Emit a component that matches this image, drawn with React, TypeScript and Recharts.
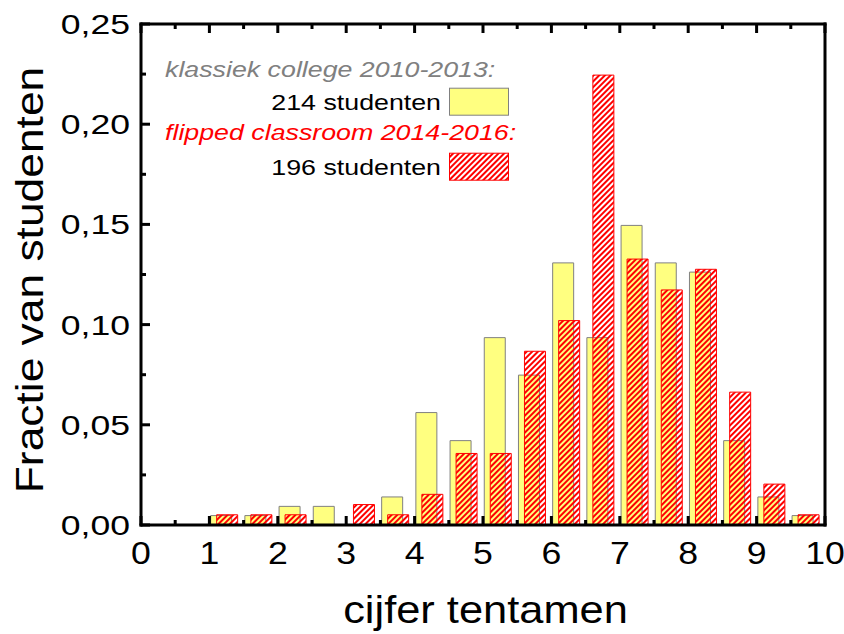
import React from 'react';
import { BarChart, Bar, XAxis, YAxis, Legend } from 'recharts';

// ---- data ----
const bins = [1.0, 1.5, 2.0, 2.5, 3.0, 3.5, 4.0, 4.5, 5.0, 5.5, 6.0, 6.5, 7.0, 7.5, 8.0, 8.5, 9.0, 9.5];
const klassiek = [0.0047, 0.0047, 0.0093, 0.0093, 0, 0.014, 0.0561, 0.0421, 0.0935, 0.0748, 0.1308, 0.0935, 0.1495, 0.1308, 0.1262, 0.0421, 0.014, 0.0047];
const flipped = [0.0051, 0.0051, 0.0051, 0, 0.0102, 0.0051, 0.0153, 0.0357, 0.0357, 0.0867, 0.102, 0.2245, 0.1327, 0.1173, 0.1276, 0.0663, 0.0204, 0.0051];
const xTicks = [0, 0.5, 1, 1.5, 2, 2.5, 3, 3.5, 4, 4.5, 5, 5.5, 6, 6.5, 7, 7.5, 8, 8.5, 9, 9.5, 10];
const yTicks = [0, 0.025, 0.05, 0.075, 0.1, 0.125, 0.15, 0.175, 0.2, 0.225, 0.25];
const legendTitles = ['klassiek college 2010-2013:', 'flipped classroom 2014-2016:'];
const legendCounts = ['214 studenten', '196 studenten'];
const xTitle = 'cijfer tentamen';
const yTitle = 'Fractie van studenten';

const data = bins.map((b, i) => ({ bin: b, klassiek: klassiek[i], flipped: flipped[i] }));

// ---- layout ----
const W = 844;
const H = 634;
const PL = 141;
const PR = 825;
const PT = 24;
const PB = 525;
const FONT = '"Liberation Sans", Arial, Helvetica, sans-serif';
const BAR_SHIFT = 0.21; // group centre inside each 0.5-wide bin
const xOf = (d: any) => d.bin + BAR_SHIFT;

const MAJOR = 9;
const MINOR = 5;

const isMajorX = (v: number) => Math.abs(v - Math.round(v)) < 1e-9;
const isMajorY = (v: number) => Math.abs(v * 20 - Math.round(v * 20)) < 1e-9;

const BottomTick = (props: any) => {
  const { x, y, payload } = props;
  const v = payload.value;
  const major = isMajorX(v);
  return (
    <g>
      <line x1={x} x2={x} y1={y} y2={y - (major ? MAJOR : MINOR)} stroke="#000" strokeWidth={3} />
      {major && (
        <text
          transform={`translate(${x},${y + 38.5}) scale(1.15,1)`}
          textAnchor="middle"
          fontFamily={FONT}
          fontSize={31}
          fill="#000"
        >
          {String(v)}
        </text>
      )}
    </g>
  );
};

const TopTick = (props: any) => {
  const { x, y, payload } = props;
  const major = isMajorX(payload.value);
  return <line x1={x} x2={x} y1={y} y2={y + (major ? MAJOR : MINOR)} stroke="#000" strokeWidth={3} />;
};

const LeftTick = (props: any) => {
  const { x, y, payload } = props;
  const v = payload.value;
  const major = isMajorY(v);
  return (
    <g>
      <line x1={x} x2={x + (major ? MAJOR : MINOR)} y1={y} y2={y} stroke="#000" strokeWidth={3} />
      {major && (
        <text
          transform={`translate(${x - 11},${y + 10}) scale(1.27,1)`}
          textAnchor="end"
          fontFamily={FONT}
          fontSize={28}
          fill="#000"
        >
          {v.toFixed(2).replace('.', ',')}
        </text>
      )}
    </g>
  );
};

const RightTick = (props: any) => {
  const { x, y, payload } = props;
  const major = isMajorY(payload.value);
  return <line x1={x} x2={x - (major ? MAJOR : MINOR)} y1={y} y2={y} stroke="#000" strokeWidth={3} />;
};

const YTitle = () => (
  <text
    transform={`translate(43.3,280) rotate(-90) scale(1.123,1)`}
    textAnchor="middle"
    fontFamily={FONT}
    fontSize={39.5}
    fill="#000"
  >
    {yTitle}
  </text>
);

const XTitle = () => (
  <text
    transform={`translate(485.5,623) scale(1.128,1)`}
    textAnchor="middle"
    fontFamily={FONT}
    fontSize={38.5}
    fill="#000"
  >
    {xTitle}
  </text>
);

const Hatch = ({ id }: { id: string }) => (
  <pattern id={id} patternUnits="userSpaceOnUse" width={4} height={4} patternTransform="rotate(45)">
    <rect x={0} y={0} width={2} height={4} fill="#ff0000" />
  </pattern>
);

const LegendBox = () => {
  const fs = 22.5;
  const sx = 1.19;
  return (
    <svg width={W} height={200} style={{ display: 'block', overflow: 'visible' }}>
      <defs>
        <Hatch id="hatchLegend" />
      </defs>
      <text transform={`translate(165,77.3) scale(${sx},1)`} fontFamily={FONT} fontSize={fs} fontStyle="italic" fill="#808080">
        {legendTitles[0]}
      </text>
      <text transform={`translate(441,110) scale(${sx},1)`} textAnchor="end" fontFamily={FONT} fontSize={fs} fill="#000">
        {legendCounts[0]}
      </text>
      <rect x={449.5} y={88.2} width={59} height={27} fill="#ffff80" stroke="#808080" strokeWidth={1} />
      <text transform={`translate(165,140) scale(${sx},1)`} fontFamily={FONT} fontSize={fs} fontStyle="italic" fill="#ff0000">
        {legendTitles[1]}
      </text>
      <text transform={`translate(441,175) scale(${sx},1)`} textAnchor="end" fontFamily={FONT} fontSize={fs} fill="#000">
        {legendCounts[1]}
      </text>
      <rect x={449.5} y={153.2} width={59} height={27} fill="url(#hatchLegend)" stroke="#ff0000" strokeWidth={1} />
    </svg>
  );
};

const axisLine = { stroke: '#000', strokeWidth: 3, strokeLinecap: 'square' } as any;

export default function App() {
  return (
    <div style={{ position: 'absolute', left: 0, top: 0, width: W, height: H, background: '#fff' }}>
      <BarChart
        width={W}
        height={H}
        data={data}
        margin={{ top: 0, right: 0, bottom: 0, left: 0 }}
        barGap={-15}
      >
        <defs>
          <Hatch id="hatchRed" />
        </defs>
        <Bar
          dataKey="klassiek"
          fill="#ffff80"
          stroke="#808080"
          strokeWidth={1}
          barSize={21}
          isAnimationActive={false}
        />
        <Bar
          dataKey="flipped"
          fill="url(#hatchRed)"
          stroke="#ff0000"
          strokeWidth={1}
          barSize={21}
          isAnimationActive={false}
        />
        <XAxis
          dataKey={xOf}
          type="number"
          domain={[0, 10]}
          ticks={xTicks}
          interval={0}
          height={H - PB}
          tickSize={0}
          tickMargin={0}
          tickLine={false}
          axisLine={axisLine}
          tick={<BottomTick />}
          label={<XTitle />}
        />
        <XAxis
          xAxisId="top"
          orientation="top"
          dataKey={xOf}
          type="number"
          domain={[0, 10]}
          ticks={xTicks}
          interval={0}
          height={PT}
          tickSize={0}
          tickMargin={0}
          tickLine={false}
          axisLine={axisLine}
          tick={<TopTick />}
        />
        <YAxis
          type="number"
          domain={[0, 0.25]}
          ticks={yTicks}
          interval={0}
          width={PL}
          tickSize={0}
          tickMargin={0}
          tickLine={false}
          axisLine={axisLine}
          tick={<LeftTick />}
          label={<YTitle />}
        />
        <YAxis
          yAxisId="right"
          orientation="right"
          type="number"
          domain={[0, 0.25]}
          ticks={yTicks}
          interval={0}
          width={W - PR}
          tickSize={0}
          tickMargin={0}
          tickLine={false}
          axisLine={axisLine}
          tick={<RightTick />}
        />
        <Legend
          layout="horizontal"
          verticalAlign="middle"
          align="center"
          wrapperStyle={{ left: 0, top: 0, width: W, height: 200, pointerEvents: 'none' }}
          content={() => <LegendBox />}
        />
      </BarChart>
    </div>
  );
}
